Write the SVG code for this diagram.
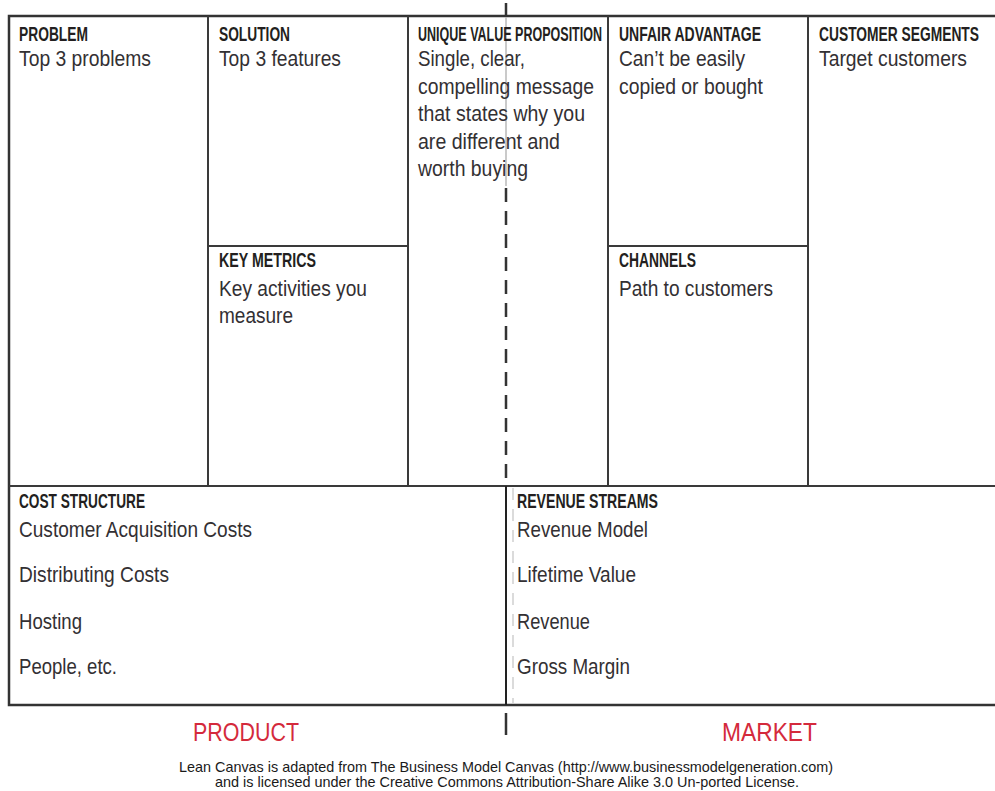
<svg xmlns="http://www.w3.org/2000/svg" width="995" height="791" viewBox="0 0 995 791">
<style>
.ln{stroke:#3a3a3a;stroke-width:2;fill:none}
.frame{stroke:#333;stroke-width:2.5;fill:none}
.h{font-family:"Liberation Sans",Arial,sans-serif;font-weight:bold;font-size:19.5px;fill:#231f20}
.b{font-family:"Liberation Sans",Arial,sans-serif;font-size:21.5px;fill:#333033}
.red{font-family:"Liberation Sans",Arial,sans-serif;font-size:26px;fill:#d42a3c}
.ft{font-family:"Liberation Sans",Arial,sans-serif;font-size:14.5px;fill:#1a1a1a}
</style>
<rect width="995" height="791" fill="#fff"/>
<g id="connectors">
<rect class="frame" x="9" y="16" width="1000" height="689"/>
<line class="ln" x1="9" y1="486" x2="1000" y2="486"/>
<line class="ln" x1="208" y1="16" x2="208" y2="486"/>
<line class="ln" x1="408" y1="16" x2="408" y2="486"/>
<line class="ln" x1="608" y1="16" x2="608" y2="486"/>
<line class="ln" x1="808" y1="16" x2="808" y2="486"/>
<line class="ln" x1="208" y1="246" x2="408" y2="246"/>
<line class="ln" x1="608" y1="246" x2="808" y2="246"/>
<line x1="506" y1="3" x2="506" y2="17" stroke="#333" stroke-width="2.5"/>
<line x1="506" y1="17" x2="506" y2="186" stroke="#b8b8b8" stroke-width="1.5"/>
<line x1="506" y1="188" x2="506" y2="486" stroke="#333" stroke-width="2.5" stroke-dasharray="14 9"/>
<line x1="506" y1="486" x2="506" y2="705" stroke="#222" stroke-width="2"/>
<line x1="513" y1="488" x2="513" y2="703" stroke="#c4c4c4" stroke-width="1.2" stroke-dasharray="12 9"/>
<line x1="506" y1="713" x2="506" y2="735" stroke="#333" stroke-width="2.5"/>
</g>
<g id="problem">
<text class="h" transform="translate(19,41) scale(0.66,1)" textLength="104.5" lengthAdjust="spacingAndGlyphs">PROBLEM</text>
<text class="b" x="19" y="66" textLength="132" lengthAdjust="spacingAndGlyphs">Top 3 problems</text>
</g>
<g id="solution">
<text class="h" transform="translate(219,41) scale(0.66,1)" textLength="107.6" lengthAdjust="spacingAndGlyphs">SOLUTION</text>
<text class="b" x="219" y="66" textLength="122" lengthAdjust="spacingAndGlyphs">Top 3 features</text>
</g>
<g id="uvp">
<text class="h" transform="translate(418,41) scale(0.66,1)" textLength="278.8" lengthAdjust="spacingAndGlyphs">UNIQUE VALUE PROPOSITION</text>
<text class="b" x="418" y="66" textLength="107" lengthAdjust="spacingAndGlyphs">Single, clear,</text>
<text class="b" x="418" y="94" textLength="176" lengthAdjust="spacingAndGlyphs">compelling message</text>
<text class="b" x="418" y="121" textLength="167" lengthAdjust="spacingAndGlyphs">that states why you</text>
<text class="b" x="418" y="149" textLength="142" lengthAdjust="spacingAndGlyphs">are different and</text>
<text class="b" x="418" y="176" textLength="110" lengthAdjust="spacingAndGlyphs">worth buying</text>
</g>
<g id="unfair-advantage">
<text class="h" transform="translate(619,41) scale(0.66,1)" textLength="215.2" lengthAdjust="spacingAndGlyphs">UNFAIR ADVANTAGE</text>
<text class="b" x="619" y="66" textLength="126" lengthAdjust="spacingAndGlyphs">Can’t be easily</text>
<text class="b" x="619" y="94" textLength="144" lengthAdjust="spacingAndGlyphs">copied or bought</text>
</g>
<g id="customer-segments">
<text class="h" transform="translate(819,41) scale(0.66,1)" textLength="242.4" lengthAdjust="spacingAndGlyphs">CUSTOMER SEGMENTS</text>
<text class="b" x="819" y="66" textLength="148" lengthAdjust="spacingAndGlyphs">Target customers</text>
</g>
<g id="key-metrics">
<text class="h" transform="translate(219,267) scale(0.66,1)" textLength="147" lengthAdjust="spacingAndGlyphs">KEY METRICS</text>
<text class="b" x="219" y="296" textLength="148" lengthAdjust="spacingAndGlyphs">Key activities you</text>
<text class="b" x="219" y="323" textLength="74" lengthAdjust="spacingAndGlyphs">measure</text>
</g>
<g id="channels">
<text class="h" transform="translate(619,267) scale(0.66,1)" textLength="116.7" lengthAdjust="spacingAndGlyphs">CHANNELS</text>
<text class="b" x="619" y="296" textLength="154" lengthAdjust="spacingAndGlyphs">Path to customers</text>
</g>
<g id="cost-structure">
<text class="h" transform="translate(19,508) scale(0.66,1)" textLength="190.9" lengthAdjust="spacingAndGlyphs">COST STRUCTURE</text>
<text class="b" x="19" y="537" textLength="233" lengthAdjust="spacingAndGlyphs">Customer Acquisition Costs</text>
<text class="b" x="19" y="582" textLength="150" lengthAdjust="spacingAndGlyphs">Distributing Costs</text>
<text class="b" x="19" y="629" textLength="63" lengthAdjust="spacingAndGlyphs">Hosting</text>
<text class="b" x="19" y="674" textLength="98" lengthAdjust="spacingAndGlyphs">People, etc.</text>
</g>
<g id="revenue-streams">
<text class="h" transform="translate(517,508) scale(0.66,1)" textLength="213.6" lengthAdjust="spacingAndGlyphs">REVENUE STREAMS</text>
<text class="b" x="517" y="537" textLength="131" lengthAdjust="spacingAndGlyphs">Revenue Model</text>
<text class="b" x="517" y="582" textLength="119" lengthAdjust="spacingAndGlyphs">Lifetime Value</text>
<text class="b" x="517" y="629" textLength="73" lengthAdjust="spacingAndGlyphs">Revenue</text>
<text class="b" x="517" y="674" textLength="113" lengthAdjust="spacingAndGlyphs">Gross Margin</text>
</g>
<g id="labels">
<text class="red" x="193" y="741" textLength="106" lengthAdjust="spacingAndGlyphs">PRODUCT</text>
<text class="red" x="722" y="741" textLength="95" lengthAdjust="spacingAndGlyphs">MARKET</text>
</g>
<g id="footer">
<text class="ft" x="179" y="772" textLength="654" lengthAdjust="spacingAndGlyphs">Lean Canvas is adapted from The Business Model Canvas (http://www.businessmodelgeneration.com)</text>
<text class="ft" x="215" y="787" textLength="584" lengthAdjust="spacingAndGlyphs">and is licensed under the Creative Commons Attribution-Share Alike 3.0 Un-ported License.</text>
</g>
</svg>
